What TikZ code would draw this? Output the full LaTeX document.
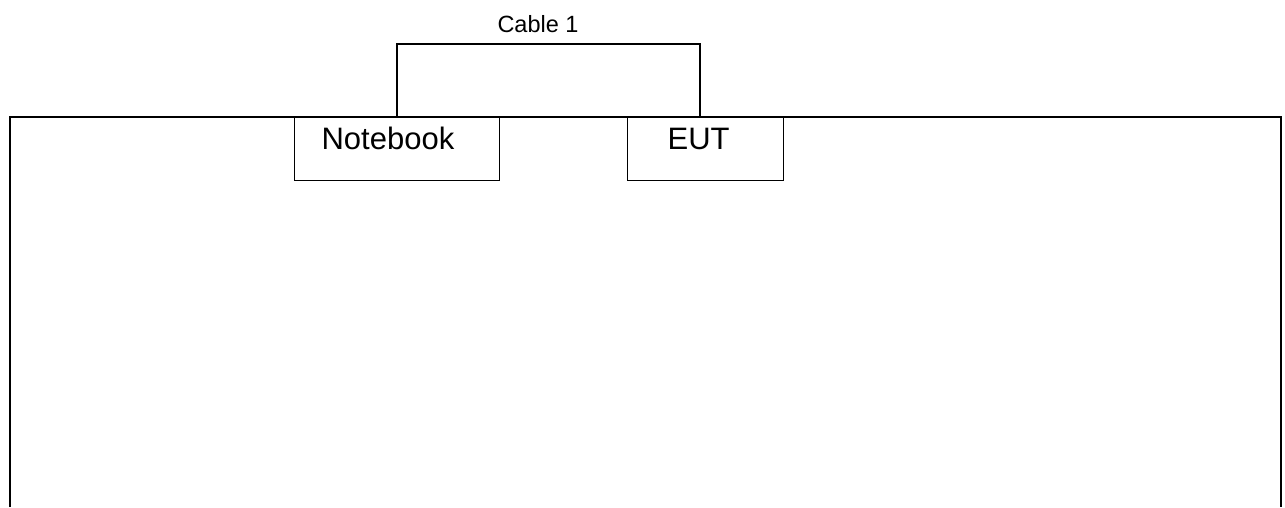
\documentclass[tikz,border=0pt]{standalone}
\usepackage{fontspec}
\setmainfont{Liberation Sans}
\usetikzlibrary{positioning}

\begin{document}
\begin{tikzpicture}[x=1pt,y=1pt,line width=1.2pt,
	devbox/.style={draw, anchor=north west, inner ysep=0pt, align=left,
		text height=32pt, text depth=31pt, font=\fontsize{31}{36}\selectfont}]
		\useasboundingbox (0,0) rectangle (1285,-507);

		% table
		\draw (10,-507) |- (1281,-117) -- (1281,-507);

		\draw (294,-117) node [devbox, inner xsep=27pt, text width=151pt] (nb) {Notebook};
		\draw (627,-117) node [devbox, inner xsep=40pt, text width=76pt] (eut) {EUT};
		\draw (538,-24) node [font=\fontsize{23.5}{28}\selectfont] (cab) {Cable 1};

		\draw ([xshift=103pt]nb.north west) -- ++(0,73) -| ([xshift=73pt]eut.north west);
	\end{tikzpicture}
\end{document}
